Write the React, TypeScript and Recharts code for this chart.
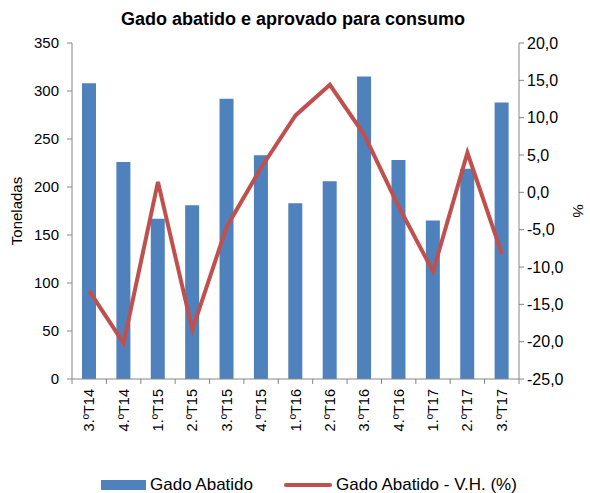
import React from 'react';
import { ComposedChart, Bar, Line, XAxis, YAxis, Legend } from 'recharts';

const categories = ['3.ºT14', '4.ºT14', '1.ºT15', '2.ºT15', '3.ºT15', '4.ºT15', '1.ºT16', '2.ºT16', '3.ºT16', '4.ºT16', '1.ºT17', '2.ºT17', '3.ºT17'];
const gadoAbatido = [308, 226, 167, 181, 292, 233, 183, 206, 315, 228, 165, 219, 288];
const variacaoHomologa = [-13.2, -20.2, 1.4, -18.4, -4.6, 3.3, 10.3, 14.4, 7.7, -1.9, -10.6, 5.3, -8.2];
const leftTicks = [0, 50, 100, 150, 200, 250, 300, 350];
const rightTicks = [-25, -20, -15, -10, -5, 0, 5, 10, 15, 20];

const data = categories.map((c, i) => ({ cat: c, abatido: gadoAbatido[i], vh: variacaoHomologa[i] }));

const FONT = '"Liberation Sans", Arial, sans-serif';
const AXIS = '#868686';
const BLUE = '#4F81BD';
const RED = '#C0504D';
const PLOT_LEFT = 72;
const PLOT_RIGHT = 519;
const BAND = (PLOT_RIGHT - PLOT_LEFT) / categories.length;

const XTick = (props: any) => {
  const { x, y, payload, index } = props;
  const ty = y + 10;
  return (
    <g>
      <line x1={x - BAND / 2} x2={x - BAND / 2} y1={y} y2={y + 5} stroke={AXIS} strokeWidth={1} />
      {index === categories.length - 1 && (
        <line x1={x + BAND / 2} x2={x + BAND / 2} y1={y} y2={y + 5} stroke={AXIS} strokeWidth={1} />
      )}
      <text
        x={x}
        y={ty}
        transform={`rotate(-90, ${x}, ${ty})`}
        textAnchor="end"
        dominantBaseline="central"
        fontSize={14.5}
        fontFamily={FONT}
        fill="#000"
      >
        {payload.value}
      </text>
    </g>
  );
};

const LeftLabel = (props: any) => {
  const vb = props.viewBox || {};
  const cy = (vb.y || 0) + (vb.height || 0) / 2;
  return (
    <text x={16} y={cy} transform={`rotate(-90, 16, ${cy})`} textAnchor="middle" dominantBaseline="central" fontSize={15} fontFamily={FONT} fill="#000">
      Toneladas
    </text>
  );
};

const RightLabel = (props: any) => {
  const vb = props.viewBox || {};
  const cy = (vb.y || 0) + (vb.height || 0) / 2;
  return (
    <text x={578} y={cy} transform={`rotate(90, 578, ${cy})`} textAnchor="middle" dominantBaseline="central" fontSize={15} fontFamily={FONT} fill="#000">
      %
    </text>
  );
};

const LegendContent = () => (
  <div style={{ display: 'flex', justifyContent: 'flex-start', alignItems: 'center', fontFamily: FONT, fontSize: 17, color: '#000', height: 16, paddingLeft: 89, whiteSpace: 'nowrap' }}>
    <div style={{ width: 45, height: 10, background: BLUE, marginRight: 4 }} />
    <span style={{ marginRight: 31 }}>Gado Abatido</span>
    <div style={{ width: 48, height: 4, background: RED, borderRadius: 2, marginRight: 4 }} />
    <span>Gado Abatido - V.H. (%)</span>
  </div>
);

export default function App() {
  return (
    <div style={{ position: 'absolute', left: 0, top: 0, width: 590, height: 493, background: '#fff' }}>
      <div style={{ position: 'absolute', top: 9, left: 0, width: 586, textAlign: 'center', fontFamily: FONT, fontWeight: 'bold', fontSize: 18, color: '#000' }}>
        Gado abatido e aprovado para consumo
      </div>
      <ComposedChart width={590} height={493} data={data} margin={{ top: 43, right: 11, left: 12, bottom: 0 }}>
        <XAxis
          dataKey="cat"
          height={98}
          interval={0}
          tickLine={false}
          tickSize={0}
          tickMargin={0}
          axisLine={{ stroke: AXIS }}
          tick={<XTick />}
        />
        <YAxis
          yAxisId="left"
          orientation="left"
          width={60}
          domain={[0, 350]}
          ticks={leftTicks}
          interval={0}
          axisLine={{ stroke: AXIS }}
          tickLine={{ stroke: AXIS }}
          tickSize={5}
          tickMargin={8}
          tick={{ fontSize: 15, fontFamily: FONT, fill: '#000' }}
          label={<LeftLabel />}
        />
        <YAxis
          yAxisId="right"
          orientation="right"
          width={60}
          domain={[-25, 20]}
          ticks={rightTicks}
          interval={0}
          axisLine={{ stroke: AXIS }}
          tickLine={{ stroke: AXIS }}
          tickSize={5}
          tickMargin={3}
          tickFormatter={(v: number) => v.toFixed(1).replace('.', ',')}
          tick={{ fontSize: 16, fontFamily: FONT, fill: '#000' }}
          label={<RightLabel />}
        />
        <Bar yAxisId="left" dataKey="abatido" name="Gado Abatido" fill={BLUE} barSize={14} isAnimationActive={false} />
        <Line yAxisId="right" dataKey="vh" name="Gado Abatido - V.H. (%)" type="linear" stroke={RED} strokeWidth={4} dot={false} activeDot={false} isAnimationActive={false} />
        <Legend verticalAlign="bottom" height={16} content={<LegendContent />} />
      </ComposedChart>
    </div>
  );
}
